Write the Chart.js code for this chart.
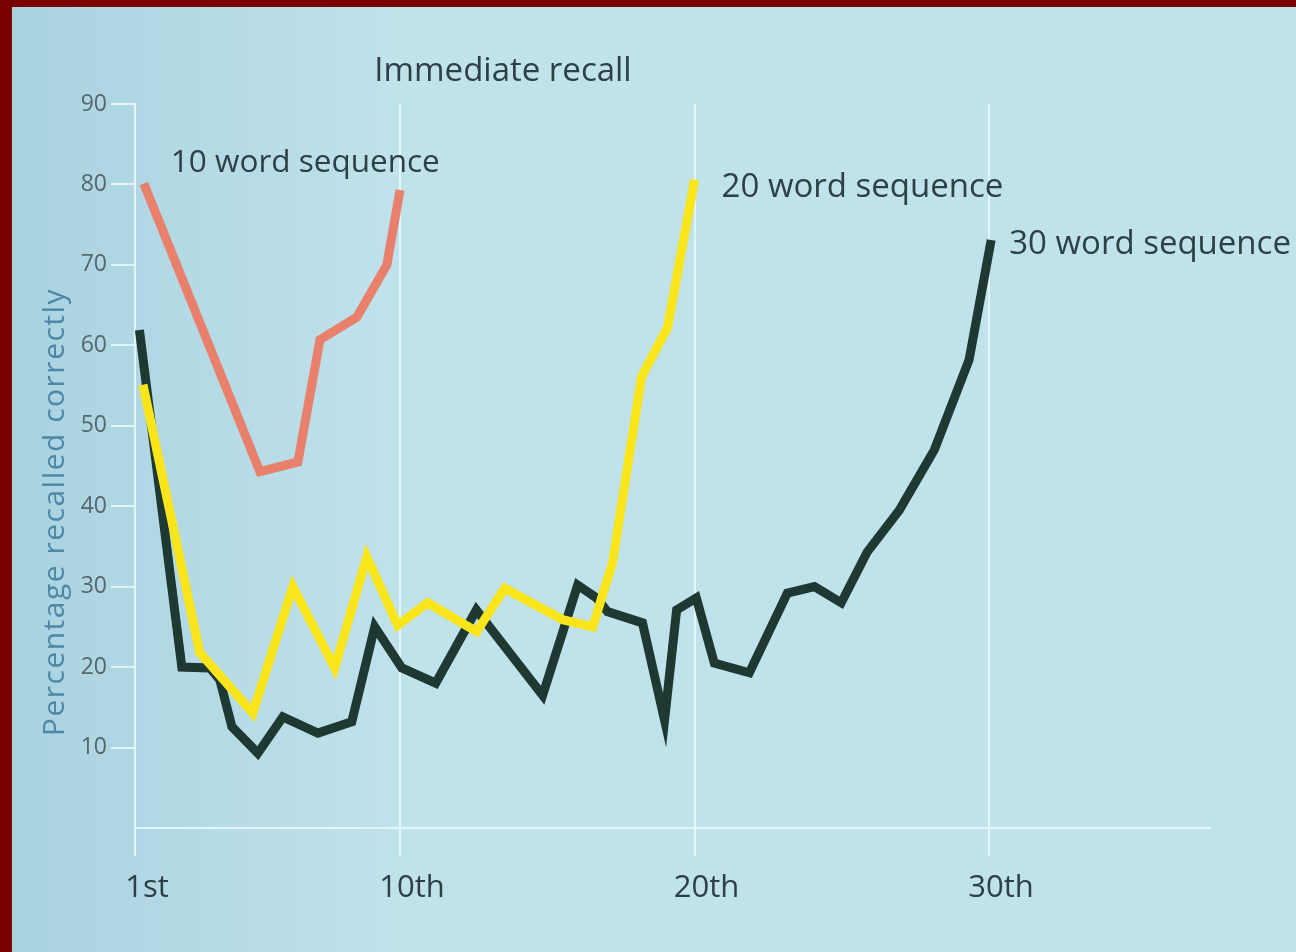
<!DOCTYPE html>
<html>
<head>
<meta charset="utf-8">
<script src="https://cdn.jsdelivr.net/npm/chart.js@4.4.0/dist/chart.umd.min.js"></script>
<style>
  html, body { margin: 0; padding: 0; background: #7a0000; }
  #wrap { width: 1296px; height: 952px; position: relative; }
</style>
</head>
<body>
<div id="wrap"><canvas id="chartRecall" width="1296" height="952"></canvas></div>
<script>
// Serial position (x) and percentage recalled (y)
const xTicks = [1, 10, 20, 30];
const xTickLabels = ['1st', '10th', '20th', '30th'];
const yTicks = [0, 10, 20, 30, 40, 50, 60, 70, 80, 90];

const seq10Pos  = [1.3, 5.24, 6.53, 7.28, 8.53, 9.55, 10.0];
const seq10Vals = [80.1, 44.3, 45.5, 60.7, 63.5, 70, 79.3];

const seq20Pos  = [1.27, 3.2, 5.0, 6.36, 7.78, 8.87, 9.92, 10.94, 12.6, 13.55, 15.52, 16.54, 17.21, 18.2, 19.08, 20.0];
const seq20Vals = [55.1, 21.8, 14.3, 30, 19.9, 33.7, 25.2, 28, 24.4, 29.8, 25.9, 25, 32.9, 56.1, 62.2, 80.6];

const seq30Pos  = [1.15, 2.59, 3.54, 3.88, 4.29, 5.17, 6.02, 7.21, 8.36, 9.14, 10.06, 11.21, 12.59, 14.84, 16.03, 16.67, 17.04, 18.23, 18.98, 19.39, 20.06, 20.67, 21.86, 23.15, 24.07, 24.98, 25.86, 26.95, 28.14, 29.32, 30.07];
const seq30Vals = [61.9, 20, 19.9, 18.4, 12.6, 9.3, 13.8, 11.8, 13.2, 25, 19.9, 18, 27.1, 16.5, 30.2, 28.6, 26.9, 25.5, 13.4, 27.1, 28.6, 20.5, 19.3, 29.2, 30, 28, 34.3, 39.5, 47, 58.2, 73.1];

const seriesNames = ['10 word sequence', '20 word sequence', '30 word sequence'];

const pts = (xs, ys) => xs.map((x, i) => ({ x: x, y: ys[i] }));

const gridColor = '#e2f5f8';
const textDark = '#2e3f46';
const fontFam = '"Open Sans", "Noto Sans", sans-serif';

const recallDecor = {
  id: 'recallDecor',
  beforeDraw(chart) {
    const ctx = chart.ctx;
    ctx.save();
    ctx.fillStyle = '#7a0000';
    ctx.fillRect(0, 0, chart.width, chart.height);
    const g = ctx.createLinearGradient(12, 0, 400, 0);
    g.addColorStop(0, '#a9d2e0');
    g.addColorStop(1, '#c0e2eb');
    ctx.fillStyle = g;
    ctx.fillRect(12, 7, chart.width - 12, chart.height - 7);
    ctx.restore();
  },
  afterDatasetsDraw(chart) {
    const ctx = chart.ctx;
    const xs = chart.scales.x, ys = chart.scales.y;
    ctx.save();
    ctx.fillStyle = textDark;
    ctx.textBaseline = 'middle';
    ctx.font = '33px ' + fontFam;
    ctx.textAlign = 'center';
    ctx.fillText('Immediate recall', 503, 72);

    ctx.textAlign = 'left';
    // 10 word label sits above the start of its curve, others after their last point
    ctx.font = '31.5px ' + fontFam;
    ctx.fillText(seriesNames[0], xs.getPixelForValue(seq10Pos[0]) + 27, ys.getPixelForValue(seq10Vals[0]) - 21);
    ctx.font = '33px ' + fontFam;
    const l20 = seq20Pos.length - 1, l30 = seq30Pos.length - 1;
    ctx.fillText(seriesNames[1], xs.getPixelForValue(seq20Pos[l20]) + 27, ys.getPixelForValue(seq20Vals[l20]) + 8);
    ctx.fillText(seriesNames[2], xs.getPixelForValue(seq30Pos[l30]) + 18, ys.getPixelForValue(seq30Vals[l30]) + 5);

    // rotated y title
    ctx.translate(55, 512);
    ctx.rotate(-Math.PI / 2);
    ctx.textAlign = 'center';
    ctx.fillStyle = '#4f88a6';
    ctx.font = '30px ' + fontFam;
    ctx.letterSpacing = '1.5px';
    ctx.fillText('Percentage recalled correctly', 0, 0);
    ctx.restore();
  }
};

new Chart(document.getElementById('chartRecall'), {
  type: 'line',
  data: {
    datasets: [
      { label: seriesNames[0], data: pts(seq10Pos, seq10Vals), borderColor: '#e8806b', borderWidth: 9, pointRadius: 0, tension: 0, fill: false },
      { label: seriesNames[1], data: pts(seq20Pos, seq20Vals), borderColor: '#f9e51a', borderWidth: 9, pointRadius: 0, tension: 0, fill: false },
      { label: seriesNames[2], data: pts(seq30Pos, seq30Vals), borderColor: '#1e3832', borderWidth: 9, pointRadius: 0, tension: 0, fill: false }
    ]
  },
  options: {
    responsive: false,
    animation: false,
    devicePixelRatio: 1,
    layout: { padding: { left: 0, top: 104, right: 86, bottom: 0 } },
    plugins: { legend: { display: false }, tooltip: { enabled: false } },
    scales: {
      x: {
        type: 'linear', min: 1, max: 37.5,
        afterBuildTicks: s => { s.ticks = xTicks.map(v => ({ value: v })); },
        afterFit: s => { s.height = 124; },
        ticks: {
          callback: v => xTickLabels[xTicks.indexOf(v)],
          labelOffset: 12, padding: 14, color: textDark, maxRotation: 0,
          font: { family: fontFam, size: 31 }
        },
        grid: { color: gridColor, lineWidth: 2, tickLength: 28, tickColor: gridColor },
        border: { display: true, color: gridColor, width: 2 }
      },
      y: {
        type: 'linear', min: 0, max: 90,
        afterBuildTicks: s => { s.ticks = yTicks.map(v => ({ value: v })); },
        afterFit: s => { s.width = 135; },
        ticks: {
          callback: v => (v === 0 ? '' : v),
          padding: 4, color: '#56676d',
          font: { family: fontFam, size: 23 }
        },
        grid: {
          color: 'transparent', lineWidth: 2, tickLength: 24,
          tickColor: c => (c.tick && c.tick.value === 0 ? 'transparent' : gridColor)
        },
        border: { display: true, color: gridColor, width: 2 }
      }
    }
  },
  plugins: [recallDecor]
});
</script>
</body>
</html>
